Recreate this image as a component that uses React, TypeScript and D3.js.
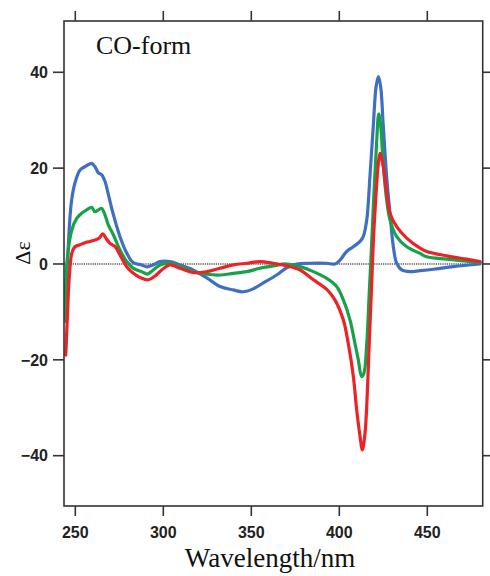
import React from "react";
import * as d3 from "d3";

const xTicks = [250, 300, 350, 400, 450];
const yTicks = [-40, -20, 0, 20, 40];

const blueSeries: [number, number][] = [
  [244.6, -6], [245.9, 2.9], [247, 9.9], [248.1, 13.8], [249.8, 16.9], [252.7, 19.6], [255.5, 20.3],
  [258.4, 20.9], [259.3, 21.0], [261.2, 20.3], [263.1, 19.0], [265, 18.6], [266.9, 17.2], [268.6, 14.8],
  [271.4, 10.6], [275.4, 5.7], [279.2, 2.3], [282.8, 0.3], [287.7, -0.2], [290.7, -0.6], [294.1, -0.2],
  [298.1, 0.5], [303.8, 0.5], [309.5, -0.2], [316.9, -1.25], [324.7, -2.9], [332.2, -4.7], [339.6, -5.4],
  [345.3, -5.8], [351, -5.2], [356.6, -4.0], [364.4, -2.3], [370.1, -0.8], [375.8, 0], [383.4, 0.15],
  [392.8, 0.15], [397.5, 0], [400.4, 0.8], [404.2, 2.6], [408, 3.6], [411.8, 4.7], [413.6, 5.7],
  [415.6, 9.2], [417.4, 18.2], [419.3, 28.7], [420.9, 37.0], [422.2, 39.1], [423.5, 37.0], [425, 28.7],
  [426.9, 18.2], [428.8, 10.6], [430.7, 3.6], [432.6, 0.15], [435.5, -1.25], [440.2, -1.6], [445.9, -1.4],
  [453.4, -1.1], [464.8, -0.55], [480, 0],
];

const greenSeries: [number, number][] = [
  [244.6, -12], [245.1, -0.5], [248, 7.1], [250.8, 9.5], [253.6, 10.6], [256.5, 11.3], [259.3, 11.8],
  [261.2, 10.9], [263.1, 11.3], [265, 11.6], [266.9, 10.2], [268.8, 8.1], [271.6, 6.1], [275.4, 2.9],
  [279.2, 0.5], [283, -0.9], [287.7, -1.6], [290.9, -2.1], [294.3, -1.25], [298.1, -0.2], [303.8, 0.15],
  [309.5, -0.56], [317, -1.6], [324.7, -2.15], [332.2, -2.3], [339.8, -1.95], [347.4, -1.6], [354.9, -0.9],
  [362.5, -0.4], [370.1, 0], [377.7, -0.56], [385.3, -1.6], [392.9, -3.0], [398.5, -4.7], [402.3, -7.5],
  [406.1, -11.7], [408.9, -16.6], [410.8, -20.0], [412.7, -23.5], [414, -22.8], [415.6, -16.6], [417, -6.1],
  [418.4, 4.3], [419.7, 14.8], [421.2, 25.3], [422.4, 31.3], [423.5, 28.9], [425, 20.5], [426.9, 13.4],
  [428.8, 9.2], [432.6, 5.7], [438.3, 3.6], [445.9, 2.2], [449.7, 1.5], [461, 1.0], [472.4, 0.6], [480, 0.3],
];

const redSeries: [number, number][] = [
  [244.6, -19.0], [245.5, -11.0], [246.6, -2.6], [248, 2.2], [249.8, 3.6], [252.7, 4.0], [255.5, 4.45],
  [258.4, 4.7], [261.2, 5.0], [263.6, 5.4], [265.6, 6.3], [267.4, 5.4], [269.7, 4.3], [272.6, 3.6],
  [275.4, 1.9], [279.2, -0.56], [283, -1.95], [287.7, -3.0], [291.5, -3.3], [295.3, -2.5], [299.1, -1.25],
  [303.8, -0.2], [309.5, -0.9], [317, -1.8], [324.7, -1.6], [332.2, -0.9], [339.8, -0.2], [347.4, 0.15],
  [354.9, 0.5], [362.5, 0.15], [370.1, -0.4], [377.7, -1.25], [385.3, -3.3], [392.9, -5.3], [397.5, -7.5],
  [402.3, -11.7], [405.1, -16.6], [408, -23.5], [409.9, -30.5], [411.8, -36.0], [413.1, -38.8], [414.6, -35.4],
  [415.9, -27.1], [417, -16.6], [418.2, -6.1], [419.3, 4.3], [420.9, 14.8], [422.2, 21.0], [423.1, 23.1],
  [425, 20.3], [426.9, 14.8], [428.8, 10.6], [432.6, 7.8], [438.3, 5.4], [445.9, 3.3], [449.7, 2.6],
  [461, 1.7], [472.4, 1.0], [480, 0.5],
];

const seriesList = [
  { name: "blue", data: blueSeries, color: "#3f6fc2" },
  { name: "green", data: greenSeries, color: "#17a24a" },
  { name: "red", data: redSeries, color: "#ec2227" },
];

export default function App() {
  const W = 490, H = 576;
  const L = 64, R = 482.7, T = 21, B = 506;
  const x = d3.scaleLinear().domain([243.58, 481.48]).range([L, R]);
  const y = d3.scaleLinear().domain([-50.5, 50.7]).range([B, T]);
  const line = d3
    .line<[number, number]>()
    .x((d) => x(d[0]))
    .y((d) => y(d[1]))
    .curve(d3.curveCatmullRom.alpha(0.5));
  const axisColor = "#333";
  const tickFont = "'Liberation Sans', Arial, sans-serif";
  const serif = "'Liberation Serif', 'Times New Roman', serif";
  return (
    <div style={{ position: "absolute", left: 0, top: 0 }}>
      <svg width={W} height={H} style={{ display: "block", background: "#fff" }}>
        <defs>
          <clipPath id="plotClip">
            <rect x={L} y={T} width={R - L} height={B - T} />
          </clipPath>
        </defs>
        <line x1={L} x2={R} y1={y(0)} y2={y(0)} stroke="#000" strokeWidth={1.2} strokeDasharray="1.2,1" />
        <g clipPath="url(#plotClip)">
          {seriesList.map((s) => (
            <path key={s.name} d={line(s.data) || ""} fill="none" stroke={s.color} strokeWidth={3.2} strokeLinejoin="round" strokeLinecap="round" />
          ))}
        </g>
        <rect x={L} y={T} width={R - L} height={B - T} fill="none" stroke={axisColor} strokeWidth={1.6} />
        {xTicks.map((t) => (
          <g key={"x" + t}>
            <line x1={x(t)} x2={x(t)} y1={B} y2={B + 10} stroke={axisColor} strokeWidth={1.6} />
            <line x1={x(t)} x2={x(t)} y1={T} y2={T - 10} stroke={axisColor} strokeWidth={1.6} />
            <text x={x(t)} y={538} textAnchor="middle" fontFamily={tickFont} fontSize={16} fontWeight="bold" fill="#222">
              {t}
            </text>
          </g>
        ))}
        {yTicks.map((t) => (
          <g key={"y" + t}>
            <line x1={L} x2={L - 11} y1={y(t)} y2={y(t)} stroke={axisColor} strokeWidth={1.6} />
            <line x1={R} x2={R + 8} y1={y(t)} y2={y(t)} stroke={axisColor} strokeWidth={1.6} />
            <text x={48} y={y(t)} dy="0.36em" textAnchor="end" fontFamily={tickFont} fontSize={16} fontWeight="bold" fill="#222">
              {t < 0 ? "\u2212" + Math.abs(t) : t}
            </text>
          </g>
        ))}
        <text x={96} y={54} fontFamily={serif} fontSize={26} fill="#111">
          CO-form
        </text>
        <text x={270} y={567} textAnchor="middle" fontFamily={serif} fontSize={27} fill="#111">
          Wavelength/nm
        </text>
        <text
          transform={`translate(30,253) rotate(-90)`}
          textAnchor="middle"
          fontFamily={serif}
          fontSize={22}
          fill="#111"
        >
          Δε
        </text>
      </svg>
    </div>
  );
}
